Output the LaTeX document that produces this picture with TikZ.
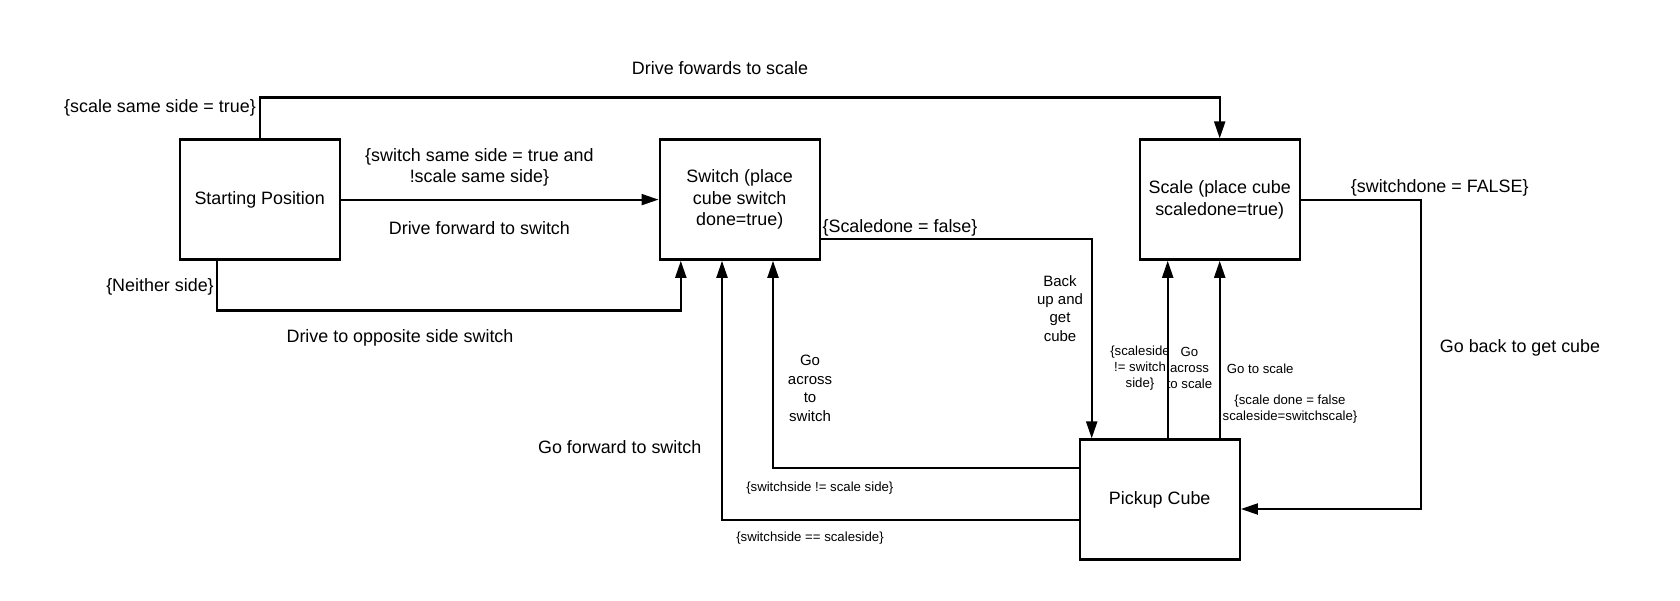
\documentclass[tikz,border=0pt]{standalone}
\usepackage{fontspec}
\setmainfont{Liberation Sans}
\usetikzlibrary{arrows.meta}
\tikzset{
  statebox/.style={draw=black, line width=2.4pt, minimum width=160pt, minimum height=120pt, inner sep=0pt, align=center, font=\fontsize{17.9}{21.6}\selectfont},
  conn/.style={line width=2.1pt, -{Triangle[length=17pt,width=11pt]}},
  biglbl/.style={inner sep=0pt, align=center, font=\fontsize{17.9}{21.6}\selectfont},
  midlbl/.style={inner sep=0pt, align=center, font=\fontsize{15}{18.4}\selectfont},
  smalllbl/.style={inner sep=0pt, align=center, font=\fontsize{13.2}{16}\selectfont},
}
\begin{document}
\begin{tikzpicture}[x=1pt,y=-1pt]
\useasboundingbox[fill=white] (0,0) rectangle (1680,600);

% states
\node[statebox] (start)  at (259.7,199.6) {Starting Position};
\node[statebox] (switch) at (739.7,199.6) {Switch (place\\cube switch\\done=true)};
\node[statebox] (scale)  at (1219.7,199.6) {Scale (place cube\\scaledone=true)};
\node[statebox] (pickup) at (1159.7,499.6) {Pickup Cube};

% labels
\node[biglbl] (l1) at (720,67.7) {Drive fowards to scale};
\node[biglbl] (l2) at (160,108) {\{scale same side = true\}};
\node[biglbl] (l3) at (479.4,167.5) {\{switch same side = true and\\!scale same side\}};
\node[biglbl] (l4) at (479.4,227.7) {Drive forward to switch};
\node[biglbl] (l5) at (160,287.3) {\{Neither side\}};
\node[biglbl] (l6) at (400,337.7) {Drive to opposite side switch};
\node[biglbl] (l7) at (900,227.7) {\{Scaledone = false\}};
\node[midlbl] (l8) at (1060,308.3) {Back\\up and\\get\\cube};
\node[midlbl] (l9) at (810,388.4) {Go\\across\\to\\switch};
\node[biglbl] (l10) at (619.7,447.3) {Go forward to switch};
\node[smalllbl] (l11) at (819.8,488.3) {\{switchside != scale side\}};
\node[smalllbl] (l12) at (810,538.3) {\{switchside == scaleside\}};
\node[smalllbl] (l13) at (1140,368.3) {\{scaleside\\!= switch\\side\}};
\node[smalllbl] (l14) at (1189.5,368.3) {Go\\across\\to scale};
\node[smalllbl] (l15) at (1260.2,368.3) {Go to scale};
\node[smalllbl] (l16) at (1290,408.7) {\{scale done = false\\scaleside=switchscale\}};
\node[biglbl] (l17) at (1439.7,187.7) {\{switchdone = FALSE\}};
\node[biglbl] (l18) at (1520,347.7) {Go back to get cube};

% connectors
\draw[conn] (start.north) -- ++(0,-40.9) -| (scale.north);
\draw[conn] (start) -- (switch);
\draw[conn] ([xshift=-42.8pt]start.south) -- ++(0,49.7) -| ([xshift=-58.9pt]switch.south);
\draw[conn] ([yshift=-39.4pt]switch.east) -| ([xshift=-68pt]pickup.north);
\draw[conn] ([yshift=31.3pt]pickup.west) -| ([xshift=33.3pt]switch.south);
\draw[conn] ([yshift=-20.4pt]pickup.west) -| ([xshift=-17.7pt]switch.south);
\draw[conn] ([xshift=8pt]pickup.north) -- ([xshift=-52pt]scale.south);
\draw[conn] ([xshift=60pt]pickup.north) -- (scale.south);
\draw[conn] (scale.east) -- ++(120.3,0) |- ([yshift=-9.4pt]pickup.east);
\end{tikzpicture}
\end{document}
